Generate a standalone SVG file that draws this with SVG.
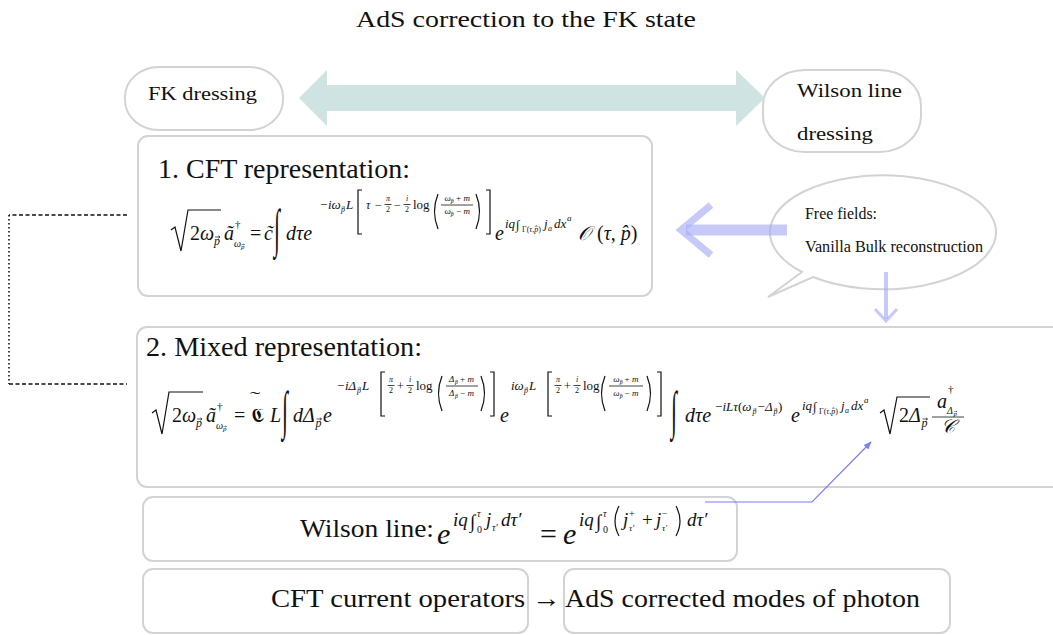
<svg xmlns="http://www.w3.org/2000/svg" width="1053" height="635" viewBox="0 0 1053 635">
<style>
.box{fill:#fff;stroke:#d3d3d3;stroke-width:2}
.t{font-family:"Liberation Serif","DejaVu Serif",serif;fill:#111}
.m{font-family:"Liberation Serif","DejaVu Serif",serif;font-style:italic;fill:#111}
.u{font-style:normal}
.ln{stroke:#111;stroke-width:1.2;fill:none}
.fl{stroke:#111;stroke-width:0.8}
</style>
<defs>
<marker id="ah" viewBox="0 0 10 10" refX="9" refY="5" markerWidth="8" markerHeight="8" orient="auto" markerUnits="userSpaceOnUse">
<path d="M0,1 L10,5 L0,9 Z" fill="#7a7ff2"/>
</marker>
<path id="va" d="M0,0 H5 M3.4,-1.3 L5,0 L3.4,1.3" stroke="#111" stroke-width="0.7" fill="none"/>
</defs>
<rect width="1053" height="635" fill="#fff"/>

<g id="title">
<text class="t" x="526" y="27" font-size="24" text-anchor="middle" textLength="340" lengthAdjust="spacingAndGlyphs">AdS correction to the FK state</text>
</g>

<g id="fk-dressing">
<rect class="box" x="125" y="67" width="158" height="63" rx="34" ry="30"/>
<text class="t" x="148" y="100" font-size="19" textLength="109" lengthAdjust="spacingAndGlyphs">FK dressing</text>
</g>

<g id="wilson-dressing">
<rect class="box" x="763" y="70" width="158" height="82" rx="42" ry="36"/>
<text class="t" x="797" y="97" font-size="19" textLength="105" lengthAdjust="spacingAndGlyphs">Wilson line</text>
<text class="t" x="797" y="140" font-size="19" textLength="76" lengthAdjust="spacingAndGlyphs">dressing</text>
</g>

<g id="cft-rep">
<rect class="box" x="138" y="136" width="514" height="160" rx="10"/>
<text class="t" x="158" y="178" font-size="27" textLength="252" lengthAdjust="spacingAndGlyphs">1. CFT representation:</text>
<path class="ln" d="M171,230 L175,227 L181,251 L188,210 L221,210"/>
<text class="m" x="190" y="240" font-size="20"><tspan class="u">2</tspan>ω</text>
<text class="m" x="214" y="245" font-size="12">p</text>
<use href="#va" transform="translate(215,237)"/>
<text class="m" x="224" y="240" font-size="20">ã</text>
<text class="t" x="235" y="228" font-size="11">†</text>
<text class="m" x="234" y="247" font-size="10">ω</text>
<text class="m" x="241" y="249" font-size="7">p</text>
<use href="#va" transform="translate(241.5,244.5) scale(0.6)"/>
<text class="t" x="250" y="240" font-size="20">=</text>
<text class="m" x="264" y="240" font-size="20">c̃</text>
<text class="m" transform="translate(274,246) scale(0.9,2.2)" font-size="24">∫</text>
<text class="m" x="286" y="240" font-size="20">dτe</text>
<text class="t" x="320" y="209" font-size="13">−</text>
<text class="m" x="328" y="209" font-size="13">iω</text>
<text class="m" x="341" y="212" font-size="8">p</text>
<use href="#va" transform="translate(341.5,207) scale(0.65)"/>
<text class="m" x="346" y="209" font-size="13">L</text>
<path class="ln" d="M362,190 L358,190 L358,234 L362,234"/>
<text class="m" x="366" y="209" font-size="12">τ</text>
<text class="t" x="375" y="209" font-size="12">−</text>
<text class="m" x="388" y="201" font-size="8" text-anchor="middle">π</text>
<line class="fl" x1="384.5" y1="204.5" x2="391.5" y2="204.5"/>
<text class="t" x="388" y="212" font-size="8" text-anchor="middle">2</text>
<text class="t" x="394" y="209" font-size="12">−</text>
<text class="m" x="407" y="201" font-size="8" text-anchor="middle">i</text>
<line class="fl" x1="403.5" y1="204.5" x2="410.5" y2="204.5"/>
<text class="t" x="407" y="212" font-size="8" text-anchor="middle">2</text>
<text class="t" x="413" y="209" font-size="13">log</text>
<path class="ln" d="M438,194 Q431,211.5 438,229"/>
<text class="m" x="444.5" y="201" font-size="9">ω</text>
<text class="m" x="450.7" y="203" font-size="6">p</text>
<use href="#va" transform="translate(451,199.5) scale(0.45)"/>
<text class="t" x="456" y="201" font-size="9">+</text>
<text class="m" x="463.5" y="201" font-size="9">m</text>
<line class="fl" x1="441" y1="205" x2="473" y2="205"/>
<text class="m" x="444.5" y="214" font-size="9">ω</text>
<text class="m" x="450.7" y="216" font-size="6">p</text>
<use href="#va" transform="translate(451,212.5) scale(0.45)"/>
<text class="t" x="456" y="214" font-size="9">−</text>
<text class="m" x="463.5" y="214" font-size="9">m</text>
<path class="ln" d="M476,194 Q483,211.5 476,229"/>
<path class="ln" d="M486,190 L490,190 L490,234 L486,234"/>
<text class="m" x="495" y="240" font-size="20">e</text>
<text class="m" x="505" y="228" font-size="13">iq</text>
<text class="m" x="516" y="229" font-size="13">∫</text>
<text class="t" x="522" y="232" font-size="8">Γ(<tspan class="m">τ</tspan>,<tspan class="m">p̂</tspan>)</text>
<text class="m" x="544" y="228" font-size="13">j</text>
<text class="m" x="548" y="231" font-size="8">a</text>
<text class="m" x="554" y="228" font-size="13">dx</text>
<text class="m" x="567" y="221" font-size="9">a</text>
<text class="m" x="578" y="240" font-size="20">𝒪</text>
<text class="t" x="597" y="240" font-size="20">(<tspan class="m">τ</tspan>, <tspan class="m">p̂</tspan>)</text>
</g>

<g id="free-fields">
<path d="M813,277 A113,57 0 1 0 802,272 L768,297 Z" fill="#fff" stroke="#d3d3d3" stroke-width="2"/>
<text class="t" x="805" y="219" font-size="16" textLength="72" lengthAdjust="spacingAndGlyphs">Free fields:</text>
<text class="t" x="805" y="252" font-size="16" textLength="178" lengthAdjust="spacingAndGlyphs">Vanilla Bulk reconstruction</text>
</g>

<g id="mixed-rep">
<rect class="box" x="137" y="327" width="930" height="160" rx="10"/>
<text class="t" x="146" y="356" font-size="27" textLength="276" lengthAdjust="spacingAndGlyphs">2. Mixed representation:</text>
<path class="ln" d="M152,413 L156,410 L162,434 L169,392 L203,392"/>
<text class="m" x="172" y="422" font-size="20"><tspan class="u">2</tspan>ω</text>
<text class="m" x="196" y="427" font-size="12">p</text>
<use href="#va" transform="translate(197,419)"/>
<text class="m" x="206" y="422" font-size="20">ã</text>
<text class="t" x="217" y="410" font-size="11">†</text>
<text class="m" x="216" y="429" font-size="10">ω</text>
<text class="m" x="223" y="431" font-size="7">p</text>
<use href="#va" transform="translate(223.5,426.5) scale(0.6)"/>
<text class="t" x="234" y="422" font-size="20">=</text>
<text class="t" x="251" y="422" font-size="20">𝕮</text>
<text class="t" transform="translate(250,402) scale(2.2,1)" font-size="14">˜</text>
<text class="m" x="270" y="422" font-size="20">L</text>
<text class="m" transform="translate(282,428) scale(0.9,2.2)" font-size="24">∫</text>
<text class="m" x="293" y="422" font-size="20">dΔ</text>
<text class="m" x="315.5" y="427" font-size="12">p</text>
<use href="#va" transform="translate(316.5,419)"/>
<text class="m" x="323" y="422" font-size="20">e</text>
<text class="t" x="337" y="390" font-size="13">−</text>
<text class="m" x="345" y="390" font-size="13">iΔ</text>
<text class="m" x="357" y="393" font-size="8">p</text>
<use href="#va" transform="translate(357.5,388) scale(0.65)"/>
<text class="m" x="362" y="390" font-size="13">L</text>
<path class="ln" d="M385,372 L381,372 L381,416 L385,416"/>
<text class="m" x="391" y="382" font-size="8" text-anchor="middle">π</text>
<line class="fl" x1="387.5" y1="385.5" x2="394.5" y2="385.5"/>
<text class="t" x="391" y="393" font-size="8" text-anchor="middle">2</text>
<text class="t" x="397" y="390" font-size="12">+</text>
<text class="m" x="410" y="382" font-size="8" text-anchor="middle">i</text>
<line class="fl" x1="406.5" y1="385.5" x2="413.5" y2="385.5"/>
<text class="t" x="410" y="393" font-size="8" text-anchor="middle">2</text>
<text class="t" x="416" y="390" font-size="13">log</text>
<path class="ln" d="M442,376 Q435,393.5 442,411"/>
<text class="m" x="449" y="382" font-size="9">Δ</text>
<text class="m" x="455" y="384" font-size="6">p</text>
<use href="#va" transform="translate(455.3,380.5) scale(0.45)"/>
<text class="t" x="460" y="382" font-size="9">+</text>
<text class="m" x="467.5" y="382" font-size="9">m</text>
<line class="fl" x1="446" y1="386" x2="478" y2="386"/>
<text class="m" x="449" y="396" font-size="9">Δ</text>
<text class="m" x="455" y="398" font-size="6">p</text>
<use href="#va" transform="translate(455.3,394.5) scale(0.45)"/>
<text class="t" x="460" y="396" font-size="9">−</text>
<text class="m" x="467.5" y="396" font-size="9">m</text>
<path class="ln" d="M481,376 Q488,393.5 481,411"/>
<path class="ln" d="M490,372 L494,372 L494,416 L490,416"/>
<text class="m" x="500" y="422" font-size="20">e</text>
<text class="m" x="511" y="390" font-size="13">iω</text>
<text class="m" x="524" y="393" font-size="8">p</text>
<use href="#va" transform="translate(524.5,388) scale(0.65)"/>
<text class="m" x="529" y="390" font-size="13">L</text>
<path class="ln" d="M552,372 L548,372 L548,416 L552,416"/>
<text class="m" x="558" y="382" font-size="8" text-anchor="middle">π</text>
<line class="fl" x1="554.5" y1="385.5" x2="561.5" y2="385.5"/>
<text class="t" x="558" y="393" font-size="8" text-anchor="middle">2</text>
<text class="t" x="564" y="390" font-size="12">+</text>
<text class="m" x="577" y="382" font-size="8" text-anchor="middle">i</text>
<line class="fl" x1="573.5" y1="385.5" x2="580.5" y2="385.5"/>
<text class="t" x="577" y="393" font-size="8" text-anchor="middle">2</text>
<text class="t" x="583" y="390" font-size="13">log</text>
<path class="ln" d="M605,376 Q598,393.5 605,411"/>
<text class="m" x="613.3" y="382" font-size="9">ω</text>
<text class="m" x="619.7" y="384" font-size="6">p</text>
<use href="#va" transform="translate(620,380.5) scale(0.45)"/>
<text class="t" x="624.5" y="382" font-size="9">+</text>
<text class="m" x="632" y="382" font-size="9">m</text>
<line class="fl" x1="609" y1="386" x2="643" y2="386"/>
<text class="m" x="613.3" y="396" font-size="9">ω</text>
<text class="m" x="619.7" y="398" font-size="6">p</text>
<use href="#va" transform="translate(620,394.5) scale(0.45)"/>
<text class="t" x="624.5" y="396" font-size="9">−</text>
<text class="m" x="632" y="396" font-size="9">m</text>
<path class="ln" d="M647,376 Q654,393.5 647,411"/>
<path class="ln" d="M657,372 L661,372 L661,416 L657,416"/>
<text class="m" transform="translate(671,428) scale(0.9,2.2)" font-size="24">∫</text>
<text class="m" x="685" y="422" font-size="20">dτe</text>
<text class="t" x="715" y="411" font-size="13">−</text>
<text class="m" x="722.5" y="411" font-size="13">iLτ<tspan class="u">(</tspan>ω</text>
<text class="m" x="752.5" y="414" font-size="8">p</text>
<use href="#va" transform="translate(753,409) scale(0.65)"/>
<text class="t" x="757.5" y="411" font-size="13">−</text>
<text class="m" x="765" y="411" font-size="13">Δ</text>
<text class="m" x="773.5" y="414" font-size="8">p</text>
<use href="#va" transform="translate(774,409) scale(0.65)"/>
<text class="t" x="778" y="411" font-size="13">)</text>
<text class="m" x="791" y="422" font-size="20">e</text>
<text class="m" x="802" y="410" font-size="13">iq</text>
<text class="m" x="813" y="411" font-size="13">∫</text>
<text class="t" x="819" y="414" font-size="8">Γ(<tspan class="m">τ</tspan>,<tspan class="m">p̂</tspan>)</text>
<text class="m" x="841" y="410" font-size="13">j</text>
<text class="m" x="845" y="413" font-size="8">a</text>
<text class="m" x="851" y="410" font-size="13">dx</text>
<text class="m" x="864" y="403" font-size="9">a</text>
<path class="ln" d="M880,413 L884,410 L890,434 L897,397 L930,397"/>
<text class="m" x="899" y="422" font-size="20"><tspan class="u">2</tspan>Δ</text>
<text class="m" x="921.5" y="427" font-size="12">p</text>
<use href="#va" transform="translate(922.5,419)"/>
<text class="m" x="937" y="408" font-size="20">a</text>
<text class="t" x="948" y="393" font-size="11">†</text>
<text class="m" x="947" y="414" font-size="10">Δ</text>
<text class="m" x="953.5" y="416" font-size="7">p</text>
<use href="#va" transform="translate(954,411.5) scale(0.6)"/>
<line class="fl" x1="932" y1="417" x2="964" y2="417"/>
<text class="m" x="948" y="433" font-size="19" text-anchor="middle">𝒞</text>
</g>

<g id="wilson-line">
<rect class="box" x="143" y="497" width="594" height="64" rx="10"/>
<text class="t" x="300" y="537" font-size="26" textLength="134" lengthAdjust="spacingAndGlyphs">Wilson line:</text>
<text class="m" x="437" y="544" font-size="30">e</text>
<text class="m" x="453" y="526" font-size="19">iq</text>
<text class="m" x="470" y="528" font-size="19">∫</text>
<text class="m" x="477" y="517" font-size="10">τ</text>
<text class="t" x="477" y="533" font-size="10">0</text>
<text class="m" x="486" y="526" font-size="19">j</text>
<text class="m" x="492" y="531" font-size="10">τ′</text>
<text class="m" x="501" y="526" font-size="19">dτ′</text>
<text class="t" x="540" y="544" font-size="30">=</text>
<text class="m" x="563" y="544" font-size="30">e</text>
<text class="m" x="579" y="526" font-size="19">iq</text>
<text class="m" x="596" y="528" font-size="19">∫</text>
<text class="m" x="603" y="517" font-size="10">τ</text>
<text class="t" x="603" y="533" font-size="10">0</text>
<path class="ln" d="M619,506 Q611,521 619,536"/>
<text class="m" x="623" y="526" font-size="19">j</text>
<text class="t" x="629" y="517" font-size="10">+</text>
<text class="m" x="629" y="531" font-size="9">τ′</text>
<text class="t" x="642" y="526" font-size="19">+</text>
<text class="m" x="656" y="526" font-size="19">j</text>
<text class="t" x="662" y="517" font-size="10">−</text>
<text class="m" x="662" y="531" font-size="9">τ′</text>
<path class="ln" d="M676,506 Q684,521 676,536"/>
<text class="m" x="687" y="526" font-size="19">dτ′</text>
</g>

<g id="cft-current">
<rect class="box" x="143" y="569" width="385" height="64" rx="10"/>
<text class="t" x="271" y="607" font-size="26" textLength="290" lengthAdjust="spacingAndGlyphs">CFT current operators →</text>
</g>

<g id="ads-modes">
<rect class="box" x="564" y="569" width="386" height="64" rx="10"/>
<text class="t" x="565" y="607" font-size="26" textLength="355" lengthAdjust="spacingAndGlyphs">AdS corrected modes of photon</text>
</g>

<g id="connectors">
<polygon points="299,98 327,70 327,85 736,85 736,70 765,98 736,126 736,111 327,111 327,126" fill="#cfe3e3"/>
<line x1="787" y1="230" x2="686" y2="230" stroke="#a9aef5" stroke-opacity="0.65" stroke-width="11"/>
<polyline points="711,205 681,230 711,255" fill="none" stroke="#a9aef5" stroke-opacity="0.65" stroke-width="7"/>
<line x1="886" y1="272" x2="886" y2="319" stroke="#a9aef5" stroke-opacity="0.65" stroke-width="4"/>
<polyline points="875,309 886,321 897,309" fill="none" stroke="#a9aef5" stroke-opacity="0.65" stroke-width="3"/>
<path d="M705,502 L812,502 L871,442" fill="none" stroke="#7a7ff2" stroke-width="1.2" marker-end="url(#ah)"/>
<line x1="127" y1="215" x2="9" y2="215" stroke="#111" stroke-width="1.6" stroke-dasharray="4,2.5"/>
<line x1="9" y1="215" x2="9" y2="384" stroke="#111" stroke-width="1.6" stroke-dasharray="1.5,2.5"/>
<line x1="9" y1="384" x2="127" y2="384" stroke="#111" stroke-width="1.6" stroke-dasharray="4,2.5"/>
</g>
</svg>
